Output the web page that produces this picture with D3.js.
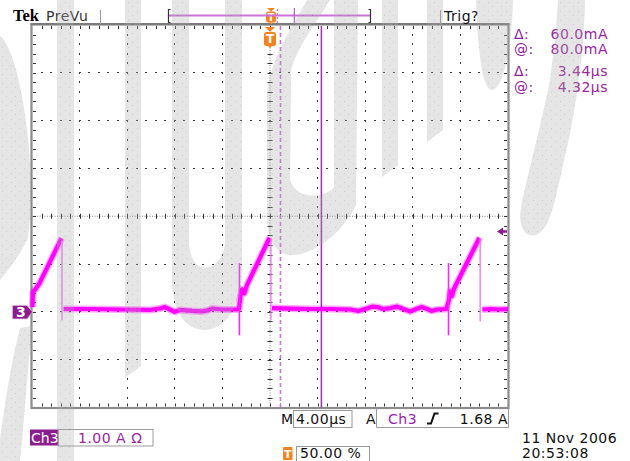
<!DOCTYPE html>
<html><head><meta charset="utf-8">
<script src="https://cdn.jsdelivr.net/npm/d3@7"></script>
<style>
body{margin:0;background:#fff}
svg{display:block}
text{font-family:"DejaVu Sans",sans-serif;font-size:14px;letter-spacing:0.5px}
</style>
</head><body>
<svg id="c" width="630" height="461"></svg>
<script>
// ---------- data ----------
const timeDomain = [-20, 20];        // µs  (4.00 µs/div, trigger at centre)
const currentDomain = [-2, 6];       // A   (1.00 A/div, ground marker 2 div below centre)
const timeStep = 4, currentStep = 1;

// Ch3 current trace (µs, A); null = pen up
const traceT = [-19.96,-19.92,-19.71,-19.37,-17.52, null,
  -17.35,-15.16,-12.63,-10.11,-9.26,-8.84,-8.42,-8.00,-7.58,-6.57,-5.73,-5.22,-4.88,-4.04,-2.86,-2.61,
  -2.48,-2.36,-2.15,-1.94,-0.04, null,
  0.17,1.68,3.37,5.05,6.74,7.41,8.00,8.59,9.01,9.52,10.11,10.69,11.20,11.79,12.29,12.72,13.22,13.56,14.06,14.82,
  15.03,15.12,15.28,15.49,17.60, null,
  17.85,18.53,19.37,20.0];
const traceI = [0.10,0.41,0.48,0.60,1.54, null,
  0.06,0.06,0.05,0.04,0.07,0.10,0.05,0.00,0.04,0.02,0.01,0.03,0.07,0.05,0.05,0.06,
  0.33,0.47,0.39,0.56,1.55, null,
  0.08,0.07,0.06,0.06,0.05,0.02,0.06,0.11,0.10,0.06,0.08,0.11,0.06,0.01,0.06,0.10,0.06,0.02,0.05,0.06,
  0.24,0.43,0.33,0.50,1.55, null,
  0.05,0.06,0.05,0.06];

// fast edges (thin vertical strokes)
const spikeT  = [-17.48, -2.57, 0.08, 15.00, 17.66];
const spikeHi = [1.50, 1.02, 1.55, 1.02, 1.54];
const spikeLo = [-0.18, -0.49, -0.17, -0.49, -0.20];
const spikeBright = [false, true, false, true, false];

const cursorT = [0.88, 4.32];
const triggerT = 0;
const triggerLevel = 1.68;
const groundLevel = 0;

const readoutSym = ["Δ:", "@:", "Δ:", "@:"];
const readoutVal = ["60.0mA", "80.0mA", "3.44µs", "4.32µs"];
const timebaseLabel = "4.00µs";
const trigSource = "Ch3";
const trigLevelLabel = "1.68 A";
const chScaleLabel = "1.00 A Ω";
const trigPosLabel = "50.00 %";
const dateLabel = "11 Nov 2006";
const timeLabel = "20:53:08";

// ---------- drawing ----------
const svg = d3.select("#c");
const X0 = 32, X1 = 508, Y0 = 25, Y1 = 407.5;
const x = d3.scaleLinear().domain(timeDomain).range([X0, X1]);
const y = d3.scaleLinear().domain(currentDomain).range([Y1, Y0]);
const rec = d3.scaleLinear().domain(timeDomain).range([170, 372]);

const majorX = d3.range(timeDomain[0], timeDomain[1] + 1e-9, timeStep);
const majorY = d3.range(currentDomain[0], currentDomain[1] + 1e-9, currentStep);
const minorX = d3.range(timeDomain[0], timeDomain[1] + 1e-9, timeStep / 5);
const minorY = d3.range(currentDomain[0], currentDomain[1] + 1e-9, currentStep / 5);
const tC = (timeDomain[0] + timeDomain[1]) / 2, vC = (currentDomain[0] + currentDomain[1]) / 2;
const inner = (arr, d) => arr.filter(v => v > d[0] + 1e-6 && v < d[1] - 1e-6);

const defs = svg.append("defs");
const pat = defs.append("pattern").attr("id", "wm").attr("width", 9).attr("height", 9)
  .attr("patternUnits", "userSpaceOnUse");
pat.append("rect").attr("width", 9).attr("height", 9).attr("fill", "#acacac");
pat.append("rect").attr("x", 2).attr("y", 2).attr("width", 1).attr("height", 1).attr("fill", "#606060");
pat.append("rect").attr("x", 6).attr("y", 6).attr("width", 1).attr("height", 1).attr("fill", "#606060");

const grid = svg.append("g");
// dotted graticule
const vLines = inner(majorX, timeDomain).filter(t => Math.abs(t - tC) > 1e-6);
const hLines = inner(majorY, currentDomain).filter(v => Math.abs(v - vC) > 1e-6);
const dotsV = vLines.flatMap(t => inner(minorY, currentDomain).map(v => [x(t), y(v), 1, 2]));
const dotsH = hLines.flatMap(v => inner(minorX, timeDomain).map(t => [x(t), y(v), 2, 1]));
grid.selectAll("rect.d").data(dotsV.concat(dotsH)).join("rect").attr("class", "d")
  .attr("x", d => Math.round(d[0] - d[2] / 2)).attr("y", d => Math.round(d[1] - d[3] / 2))
  .attr("width", d => d[2]).attr("height", d => d[3]).attr("fill", "#3a3a3a");

// centre cross
grid.append("line").attr("x1", x(tC)).attr("x2", x(tC)).attr("y1", Y0).attr("y2", Y1)
  .attr("stroke", "#8a8a8a").attr("stroke-dasharray", "1,1.5");
grid.append("line").attr("y1", y(vC)).attr("y2", y(vC)).attr("x1", X0).attr("x2", X1)
  .attr("stroke", "#8a8a8a").attr("stroke-dasharray", "1,1.5");
grid.selectAll("line.cv").data(inner(minorY, currentDomain)).join("line").attr("class", "cv")
  .attr("x1", x(tC) - 2.5).attr("x2", x(tC) + 2.5).attr("y1", d => Math.round(y(d)) + 0.5).attr("y2", d => Math.round(y(d)) + 0.5)
  .attr("stroke", "#333");
grid.selectAll("line.ch").data(inner(minorX, timeDomain)).join("line").attr("class", "ch")
  .attr("y1", y(vC) - 2.5).attr("y2", y(vC) + 2.5).attr("x1", d => Math.round(x(d)) + 0.5).attr("x2", d => Math.round(x(d)) + 0.5)
  .attr("stroke", "#333");
// edge ticks
const mx = inner(minorX, timeDomain), my = inner(minorY, currentDomain);
grid.selectAll("line.et").data(mx).join("line").attr("class", "et")
  .attr("x1", d => Math.round(x(d)) + 0.5).attr("x2", d => Math.round(x(d)) + 0.5)
  .attr("y1", Y0 + 1).attr("y2", Y0 + 4).attr("stroke", "#333");
grid.selectAll("line.eb").data(mx).join("line").attr("class", "eb")
  .attr("x1", d => Math.round(x(d)) + 0.5).attr("x2", d => Math.round(x(d)) + 0.5)
  .attr("y1", Y1 - 4).attr("y2", Y1 - 1).attr("stroke", "#333");
grid.selectAll("line.el").data(my).join("line").attr("class", "el")
  .attr("y1", d => Math.round(y(d)) + 0.5).attr("y2", d => Math.round(y(d)) + 0.5)
  .attr("x1", X0 + 1).attr("x2", X0 + 4).attr("stroke", "#333");
grid.selectAll("line.er").data(my).join("line").attr("class", "er")
  .attr("y1", d => Math.round(y(d)) + 0.5).attr("y2", d => Math.round(y(d)) + 0.5)
  .attr("x1", X1 - 4).attr("x2", X1 - 1).attr("stroke", "#333");
// border
grid.append("rect").attr("x", X0 - 0.5).attr("y", Y0 - 0.5).attr("width", X1 - X0 + 1).attr("height", Y1 - Y0 + 1)
  .attr("fill", "none").attr("stroke", "#8c8c8c").attr("stroke-width", 2.2);
grid.append("line").attr("x1", X0 - 1.5).attr("x2", X1 + 1.5).attr("y1", Y0 - 1).attr("y2", Y0 - 1)
  .attr("stroke", "#7a7a7a").attr("stroke-width", 2);

// cursors
const purpleLight = "#cc70da", purpleDark = "#a12db0", mag = "#8d1d8f";
svg.append("line").attr("x1", x(cursorT[0])).attr("x2", x(cursorT[0])).attr("y1", Y0 + 1).attr("y2", Y1)
  .attr("stroke", purpleLight).attr("stroke-width", 1.6).attr("stroke-dasharray", "4,3");
svg.append("line").attr("x1", x(cursorT[1])).attr("x2", x(cursorT[1])).attr("y1", Y0 + 1).attr("y2", Y1)
  .attr("stroke", purpleDark).attr("stroke-width", 1.5);

// trace
const pts = traceT.map((t, i) => ({ t, v: traceI[i] }));
const line = d3.line().defined(d => d.t !== null && d.v !== null).x(d => x(d.t)).y(d => y(d.v));
svg.append("path").attr("d", line(pts)).attr("fill", "none").attr("stroke", "#ff00ff")
  .attr("stroke-width", 7).attr("stroke-opacity", 0.35).attr("stroke-linejoin", "round");
svg.append("path").attr("d", line(pts)).attr("fill", "none").attr("stroke", "#ff00ff")
  .attr("stroke-width", 4.2).attr("stroke-linejoin", "round");
svg.selectAll("line.sp").data(spikeT).join("line").attr("class", "sp")
  .attr("x1", d => x(d)).attr("x2", d => x(d))
  .attr("y1", (d, i) => y(spikeHi[i])).attr("y2", (d, i) => y(spikeLo[i]))
  .attr("stroke", (d, i) => spikeBright[i] ? "#ff22ff" : "#f070f0")
  .attr("stroke-width", (d, i) => spikeBright[i] ? 1.6 : 1.3);

// ground marker
const gy = y(groundLevel);
svg.append("path").attr("d", `M12.5,${gy - 6.5}H27L32.5,${gy}L27,${gy + 7}H12.5Z`)
  .attr("fill", mag).attr("stroke", "#d9b3db").attr("stroke-width", 0.8);
svg.append("text").attr("x", 16).attr("y", gy + 5.5).attr("fill", "#fff").style("font-size", "14px")
  .attr("font-weight", "bold").text("3");
// trigger level arrow
const ty = y(triggerLevel);
svg.append("path").attr("d", `M497,${ty}L503,${ty - 4}V${ty - 1.3}H507V${ty + 1.3}H503V${ty + 4}Z`).attr("fill", mag);

// trigger T markers
const orange = "#f5821f";
function tMarker(cx, top, w, h, tri, fs) {
  const gT = svg.append("g");
  gT.append("path").attr("d", `M${cx - w / 2 + 1},${top}H${cx + w / 2 - 1}L${cx},${top + tri}Z`).attr("fill", orange);
  gT.append("rect").attr("x", cx - w / 2).attr("y", top + tri).attr("width", w).attr("height", h).attr("rx", 2.5).attr("fill", orange);
  gT.append("path").attr("d", `M${cx - 2},${top + tri + h}H${cx + 2}L${cx},${top + tri + h + 2}Z`).attr("fill", orange);
  gT.append("text").attr("x", cx).attr("y", top + tri + h / 2 + fs * 0.37).attr("text-anchor", "middle")
    .attr("fill", "#fff").style("font-size", fs + "px").style("letter-spacing", "0").attr("font-weight", "bold").text("T");
}
tMarker(x(triggerT), 27, 12, 14, 5, 12);
tMarker(rec(triggerT), 8, 10, 11, 3.5, 10);

// top status bar
svg.append("text").attr("x", 13).attr("y", 21).style("font-family", "Liberation Serif").attr("font-weight", "bold")
  .style("font-size", "16.5px").style("letter-spacing", "0").attr("fill", "#000").text("Tek");
svg.append("text").attr("x", 46).attr("y", 21).attr("fill", "#333").text("PreVu");
svg.append("line").attr("x1", 100.5).attr("x2", 100.5).attr("y1", 10).attr("y2", 24).attr("stroke", "#999");
svg.append("line").attr("x1", 440.5).attr("x2", 440.5).attr("y1", 10).attr("y2", 24).attr("stroke", "#999");
svg.append("text").attr("x", 444).attr("y", 21).attr("fill", "#111").text("Trig?");
// record view bar
svg.append("line").attr("x1", 168).attr("x2", 371).attr("y1", 15.5).attr("y2", 15.5).attr("stroke", purpleLight).attr("stroke-width", 2);
svg.append("path").attr("d", "M170.5,9.5H168.5V22.5H170.5").attr("fill", "none").attr("stroke", "#333").attr("stroke-width", 1.2);
svg.append("path").attr("d", "M368.5,9.5H370.5V22.5H368.5").attr("fill", "none").attr("stroke", "#333").attr("stroke-width", 1.2);
svg.append("line").attr("x1", rec(cursorT[0]) + 2).attr("x2", rec(cursorT[0]) + 2).attr("y1", 9).attr("y2", 23)
  .attr("stroke", purpleLight).attr("stroke-width", 1.3).attr("stroke-dasharray", "2,2");
svg.append("line").attr("x1", rec(cursorT[1]) + 1.5).attr("x2", rec(cursorT[1]) + 1.5).attr("y1", 8).attr("y2", 23)
  .attr("stroke", "#b060c0").attr("stroke-width", 1.2);

// cursor readouts
const roY = [39, 54, 76, 92];
svg.selectAll("text.rs").data(readoutSym).join("text").attr("class", "rs")
  .attr("x", 514).attr("y", (d, i) => roY[i]).attr("fill", "#9120a0").text(d => d);
svg.selectAll("text.rv").data(readoutVal).join("text").attr("class", "rv")
  .attr("x", 608).attr("y", (d, i) => roY[i]).attr("text-anchor", "end").attr("fill", "#9b249f").text(d => d);

// bottom readouts
const by = 424;
svg.append("text").attr("x", 281).attr("y", by).attr("fill", "#111").text("M");
svg.append("rect").attr("x", 293.5).attr("y", 410.5).attr("width", 58.5).attr("height", 17).attr("fill", "#fff").attr("stroke", "#9a9a9a");
svg.append("text").attr("x", 296).attr("y", by).attr("fill", "#111").text(timebaseLabel);
svg.append("text").attr("x", 366).attr("y", by).attr("fill", "#111").text("A");
svg.append("path").attr("d", "M376.5,409V427.5H508.5V409").attr("fill", "none").attr("stroke", "#9a9a9a");
svg.append("text").attr("x", 388).attr("y", by).attr("fill", "#a020b0").text(trigSource);
svg.append("path").attr("d", "M427,423.5H431L434.5,413.5H438.5").attr("fill", "none").attr("stroke", "#111").attr("stroke-width", 2);
svg.append("text").attr("x", 508).attr("y", by).attr("text-anchor", "end").attr("fill", "#111").text(trigLevelLabel);

svg.append("rect").attr("x", 30).attr("y", 429.5).attr("width", 28.5).attr("height", 16).attr("fill", mag);
svg.append("text").attr("x", 31).attr("y", 442.5).style("letter-spacing", "0").attr("fill", "#fff").text("Ch3");
svg.append("rect").attr("x", 58.5).attr("y", 429.5).attr("width", 94.5).attr("height", 16.5).attr("fill", "none").attr("stroke", "#9a9a9a");
svg.append("text").attr("x", 78).attr("y", 442.5).attr("fill", "#9b249f").text(chScaleLabel);

svg.append("rect").attr("x", 283).attr("y", 447).attr("width", 9.5).attr("height", 13).attr("rx", 1).attr("fill", orange);
svg.append("text").attr("x", 287.8).attr("y", 458).attr("text-anchor", "middle").style("font-size", "11px").style("letter-spacing", "0")
  .attr("font-weight", "bold").attr("fill", "#fff").text("T");
svg.append("rect").attr("x", 296.5).attr("y", 446.5).attr("width", 73).attr("height", 20).attr("fill", "none").attr("stroke", "#9a9a9a");
svg.append("text").attr("x", 300).attr("y", 458).attr("fill", "#111").text(trigPosLabel);

svg.append("text").attr("x", 522).attr("y", 443).attr("fill", "#111").text(dateLabel);
svg.append("text").attr("x", 522).attr("y", 458).attr("fill", "#111").text(timeLabel);

// watermark overlay (translucent)
const wm = svg.append("g").attr("opacity", 0.3).attr("fill", "url(#wm)");
[
  "M0,36 C12,45 24,90 29,150 C32,190 31,215 28,238 C20,255 10,268 0,280 Z",
  "M0,461 L0,440 C5,400 12,360 20,328 L32,326 C28,370 24,420 20,461 Z",
  "M57,0 H74 V461 H57 Z",
  "M125,0 H141 V366 L125,378 Z",
  "M172,0 H189 V240 C189,268 205,272 215,264 C222,258 225,250 225,240 V0 H242 V270 C242,305 225,330 205,330 C185,330 172,310 172,280 Z",
  "M307,0 L330,0 C315,25 298,45 291,70 L290,180 C295,198 320,200 334,188 L334,0 L358,0 L356,205 C345,228 320,252 295,255 C276,257 267,240 267,215 L267,95 C270,60 290,30 307,0 Z",
  "M382,0 H398 V165 L382,177 Z",
  "M427,0 H443 V130 L427,142 Z",
  "M476,0 H513 C512,40 505,88 492,90 C482,90 478,50 476,0 Z",
  "M558,0 H585 C584,60 574,120 562,170 C555,200 550,230 536,235 C524,238 518,225 521,208 C526,180 540,130 550,80 C554,50 557,20 558,0 Z"
].forEach(d => wm.append("path").attr("d", d));
</script>
</body></html>
